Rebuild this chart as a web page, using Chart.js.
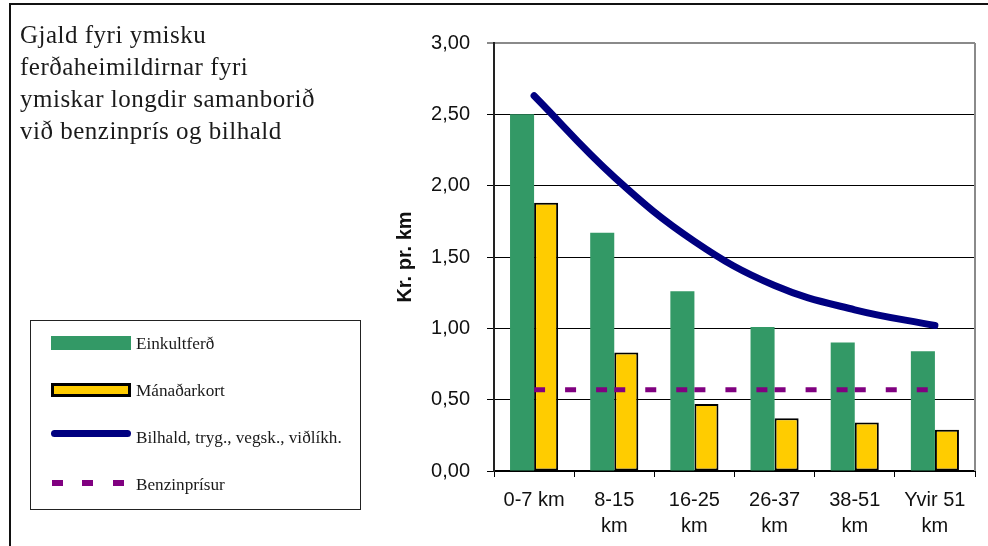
<!DOCTYPE html>
<html>
<head>
<meta charset="utf-8">
<script src="https://cdn.jsdelivr.net/npm/chart.js@4/dist/chart.umd.min.js"></script>
<style>
  html, body { margin: 0; padding: 0; background: #fff; }
  #wrap { position: relative; width: 988px; height: 546px; overflow: hidden; }
  #c { position: absolute; left: 0; top: 0; }
  #frame { position: absolute; left: 9px; top: 3px; width: 990px; height: 560px;
           border-top: 2px solid #111; border-left: 2px solid #111; pointer-events: none; }
  #title { position: absolute; left: 20px; top: 19px; font-family: "Liberation Serif", "DejaVu Serif", serif;
           font-size: 25px; letter-spacing: 0.5px; line-height: 32px; color: #1a1a1a; white-space: nowrap; }
  #legend { position: absolute; left: 30px; top: 320px; width: 329px; height: 188px;
            border: 1px solid #222; background: #fff; }
  .lg-text { position: absolute; left: 105px; font-family: "Liberation Serif", "DejaVu Serif", serif;
             font-size: 17.2px; line-height: 20px; color: #1a1a1a; white-space: nowrap; }
  .lg-sw { position: absolute; box-sizing: border-box; }
</style>
</head>
<body>
<div id="wrap">
  <canvas id="c" width="988" height="546"></canvas>
  <div id="frame"></div>
  <div id="title">Gjald fyri ymisku<br>ferðaheimildirnar fyri<br>ymiskar longdir samanborið<br>við benzinprís og bilhald</div>
  <div id="legend"></div>
</div>
<script>
// Distance bands (x axis)
const categories = ['0-7 km', ['8-15', 'km'], ['16-25', 'km'], ['26-37', 'km'], ['38-51', 'km'], ['Yvir 51', 'km']];

// Cost per km for each band
const einkultferd  = [2.50, 1.67, 1.26, 1.01, 0.90, 0.84];
const manadarkort  = [1.88, 0.83, 0.47, 0.37, 0.34, 0.29];
const bilhald      = [2.63, 2.06, 1.61, 1.30, 1.13, 1.02];
const benzinprisur = [0.57, 0.57, 0.57, 0.57, 0.57, 0.57];

const seriesNames = ['Einkultferð', 'Mánaðarkort', 'Bilhald, tryg., vegsk., viðlíkh.', 'Benzinprísur'];
const yAxisTitle = 'Kr. pr. km';

const GREEN = '#339966', YELLOW = '#FFCC00', NAVY = '#000080', PURPLE = '#800080';
const DASH = [11, 20];
const DASH_PERIOD = DASH[0] + DASH[1];

// Gray frame on the right edge of the plot area
const plotFrame = {
  id: 'plotFrame',
  beforeDatasetsDraw(chart) {
    const { ctx, chartArea: a } = chart;
    ctx.save();
    ctx.strokeStyle = '#8a8a8a';
    ctx.lineWidth = 2;
    ctx.beginPath();
    ctx.moveTo(a.right, a.top);
    ctx.lineTo(a.right, a.bottom);
    ctx.stroke();
    ctx.restore();
  }
};

const tickFont = { family: '"Liberation Sans", Arial, sans-serif', size: 20 };

new Chart(document.getElementById('c'), {
  type: 'bar',
  data: {
    labels: categories,
    datasets: [
      { type: 'line', label: seriesNames[2], data: bilhald, borderColor: NAVY, borderWidth: 7,
        tension: 0.4, pointRadius: 0, borderCapStyle: 'round', borderJoinStyle: 'round', fill: false, order: 0 },
      { type: 'line', label: seriesNames[3], data: benzinprisur, borderColor: PURPLE, borderWidth: 5,
        borderDash: DASH, pointRadius: 0, fill: false, order: 1,
        // dash pattern restarts at every point (alternating offsets of one full period keep segments separate)
        segment: { borderDashOffset: (ctx) => (ctx.p0DataIndex % 2) * DASH_PERIOD } },
      { label: seriesNames[0], data: einkultferd, backgroundColor: GREEN, borderWidth: 0, order: 2,
        categoryPercentage: 0.6, barPercentage: 1.0 },
      { label: seriesNames[1], data: manadarkort, backgroundColor: YELLOW, borderColor: '#000', borderWidth: 2,
        borderSkipped: false, order: 3, categoryPercentage: 0.6, barPercentage: 1.0 }
    ]
  },
  options: {
    responsive: false,
    animation: false,
    devicePixelRatio: 1,
    layout: { padding: { left: 385, top: 43, right: 13, bottom: 0 } },
    plugins: { legend: { display: false }, tooltip: { enabled: false } },
    scales: {
      x: {
        offset: true,
        grid: { display: true, drawOnChartArea: false, drawTicks: true, tickLength: 6, offset: true, color: '#000', lineWidth: 1 },
        border: { display: true, color: '#000', width: 2 },
        ticks: { font: { ...tickFont, lineHeight: 1.33 }, color: '#111', padding: 10, maxRotation: 0, autoSkip: false },
        afterFit(scale) { scale.height = 75; }
      },
      y: {
        min: 0, max: 3,
        grid: {
          drawTicks: true, tickLength: 7,
          color: (ctx) => (ctx.tick && ctx.tick.value === 3 ? '#8a8a8a' : '#000'),
          lineWidth: (ctx) => (ctx.tick && ctx.tick.value === 3 ? 2 : 1)
        },
        border: { display: true, color: '#222', width: 2 },
        ticks: { stepSize: 0.5, font: tickFont, color: '#111', padding: 17,
                 callback: (v) => Number(v).toFixed(2).replace('.', ',') },
        title: { display: true, text: yAxisTitle, color: '#111',
                 font: { family: '"Liberation Sans", Arial, sans-serif', size: 20, weight: 'bold' },
                 padding: { top: 8, bottom: 0 } },
        afterFit(scale) { scale.width = 109; }
      }
    }
  },
  plugins: [plotFrame]
});

// Legend box built from the same series names and colours
(function buildLegend() {
  const lg = document.getElementById('legend');
  const ox = 31, oy = 321; // legend content origin on the page
  const rowTop = [334, 381, 428, 475];
  const add = (cls, css, text) => {
    const d = document.createElement('div');
    d.className = cls;
    Object.assign(d.style, css);
    if (text) d.textContent = text;
    lg.appendChild(d);
    return d;
  };
  // swatches
  add('lg-sw', { left: (51 - ox) + 'px', top: (336 - oy) + 'px', width: '80px', height: '14px', background: GREEN });
  add('lg-sw', { left: (51 - ox) + 'px', top: (383 - oy) + 'px', width: '80px', height: '14px', background: YELLOW, border: '3px solid #000' });
  add('lg-sw', { left: (51 - ox) + 'px', top: (430 - oy) + 'px', width: '80px', height: '7px', background: NAVY, borderRadius: '3.5px' });
  [52, 82, 113].forEach((x) => add('lg-sw', { left: (x - ox) + 'px', top: (480 - oy) + 'px', width: '11px', height: '6px', background: PURPLE }));
  // labels
  seriesNames.forEach((name, i) => add('lg-text', { top: (rowTop[i] - oy) + 'px' }, name));
})();
</script>
</body>
</html>
